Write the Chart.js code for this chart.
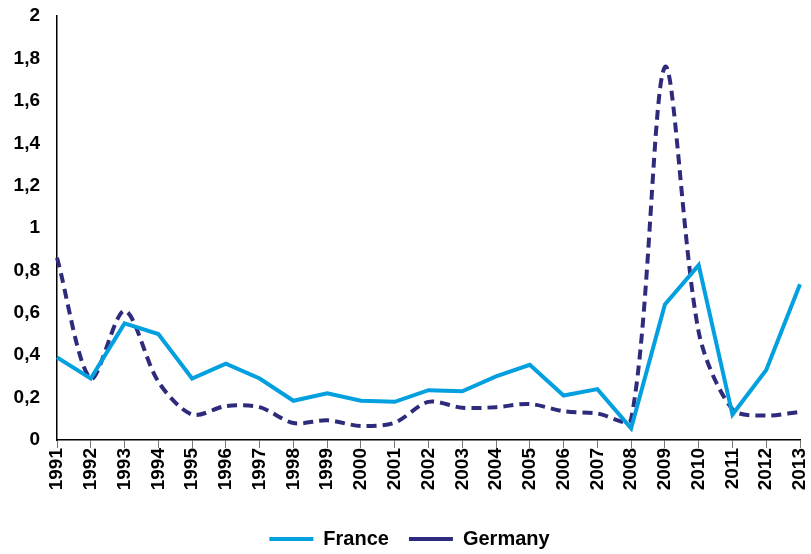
<!DOCTYPE html>
<html>
<head>
<meta charset="utf-8">
<script src="https://cdn.jsdelivr.net/npm/chart.js@4.4.1/dist/chart.umd.min.js"></script>
<style>
  html, body { margin: 0; padding: 0; background: #fff; overflow: hidden; }
  #wrap { width: 819px; height: 554px; position: relative; }
</style>
</head>
<body>
<div id="wrap"><canvas id="myChart"></canvas></div>
<script>
var years = ['1991','1992','1993','1994','1995','1996','1997','1998','1999','2000','2001','2002',
             '2003','2004','2005','2006','2007','2008','2009','2010','2011','2012','2013'];
var france = [0.39, 0.29, 0.55, 0.50, 0.29, 0.36, 0.29, 0.185, 0.22, 0.185, 0.18, 0.235,
              0.23, 0.30, 0.355, 0.21, 0.24, 0.055, 0.64, 0.825, 0.12, 0.33, 0.735];
var germany = [0.86, 0.29, 0.61, 0.275, 0.12, 0.16, 0.155, 0.08, 0.093, 0.066, 0.082, 0.18,
               0.152, 0.155, 0.17, 0.136, 0.125, 0.098, 1.76, 0.51, 0.145, 0.115, 0.133];
var yMin = 0, yMax = 2, yStep = 0.2;

var ctx = document.getElementById("myChart").getContext("2d");

// push the legend down a bit after layout (keeps item spacing)
var legendShift = {
  id: 'legendShift',
  afterLayout: function(chart) {
    if (chart.legend) {
      chart.legend.top += 5;
      chart.legend.bottom += 5;
    }
  }
};

var myChart = new Chart(ctx, {
  type: 'line',
  data: {
    labels: years,
    datasets: [{
      label: 'France',
      data: france,
      borderColor: '#03a0e0',
      backgroundColor: '#03a0e0',
      borderWidth: 4,
      pointRadius: 0,
      tension: 0
    }, {
      label: 'Germany',
      data: germany,
      borderColor: '#2f2b7c',
      backgroundColor: '#2f2b7c',
      borderWidth: 4,
      borderDash: [10, 6],
      pointRadius: 0,
      tension: 0.3
    }]
  },
  plugins: [legendShift],
  options: {
    responsive: true,
    maintainAspectRatio: false,
    animation: false,
    layout: { padding: 0 },
    plugins: {
      tooltip: { enabled: false },
      legend: {
        position: 'bottom',
        labels: {
          usePointStyle: true,
          pointStyle: 'line',
          pointStyleWidth: 44,
          padding: 20,
          color: '#000',
          font: { family: '"Liberation Sans Narrow", "Liberation Sans", Arial, sans-serif', size: 20, weight: 'bold', lineHeight: 1 }
        }
      }
    },
    scales: {
      x: {
        grid: { display: true, drawOnChartArea: false, drawTicks: true, tickLength: 8, color: '#777' },
        border: { display: true, color: '#000', width: 1.5 },
        ticks: {
          autoSkip: false, minRotation: 90, maxRotation: 90, padding: 0, color: '#000',
          font: { family: '"Liberation Sans", Arial, sans-serif', size: 19, weight: 'bold', lineHeight: 1 }
        },
        afterFit: function(scale) { scale.height = 64; }
      },
      y: {
        min: yMin, max: yMax,
        grid: { display: true, drawOnChartArea: false, drawTicks: true, tickLength: 17, color: 'rgba(0,0,0,0)' },
        border: { display: true, color: '#000', width: 1.5 },
        ticks: {
          stepSize: yStep, padding: 0, color: '#000',
          font: { family: '"Liberation Sans", Arial, sans-serif', size: 19, weight: 'bold', lineHeight: 1.7 },
          callback: function(v) { return String(Number(v.toFixed(1))).replace('.', ','); }
        },
        afterFit: function(scale) { scale.width = 57; }
      }
    }
  }
});
</script>
</body>
</html>
